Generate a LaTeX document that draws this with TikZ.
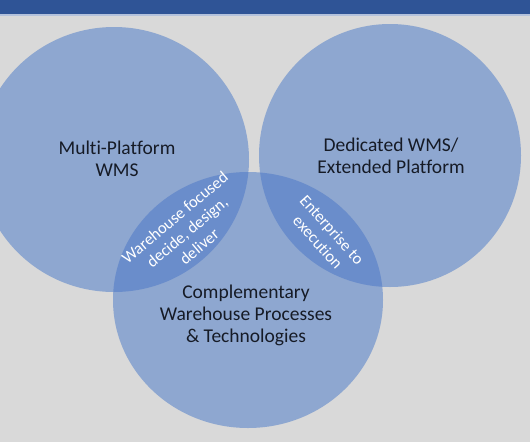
\documentclass[tikz,border=0pt]{standalone}
\usepackage{fontspec}
\setmainfont{Carlito}[Ligatures=NoCommon]
\definecolor{bggray}{HTML}{D9D9D9}
\definecolor{barblue}{HTML}{2F5496}
\definecolor{barline}{HTML}{B4C2DC}
\definecolor{circfill}{HTML}{8EA7D0}
\definecolor{lensfill}{HTML}{6A8DCB}
\definecolor{txtdark}{HTML}{161B26}
\tikzset{
  circ/.style={fill=circfill},
  lens/.style={fill=lensfill},
  mainlabel/.style={align=center,text=txtdark,font=\fontsize{19.5}{22}\selectfont,inner sep=0pt},
  lenslabel/.style={align=center,text=white,font=\fontsize{16.5}{19}\selectfont,inner sep=0pt}
}
\begin{document}
\begin{tikzpicture}[x=1pt,y=-1pt]
\useasboundingbox (0,0) rectangle (530,442);
\fill[bggray] (0,0) rectangle (530,442);
% circles
\fill[circ] (114,159.5) ellipse [x radius=135pt, y radius=132.5pt];
\fill[circ] (390,155.5) ellipse [x radius=131pt, y radius=131.5pt];
\fill[circ] (248,300) ellipse [x radius=135pt, y radius=128pt];
% lenses
\begin{scope}
  \clip (114,159.5) ellipse [x radius=135pt, y radius=132.5pt];
  \fill[lens] (248,300) ellipse [x radius=135pt, y radius=128pt];
\end{scope}
\begin{scope}
  \clip (390,155.5) ellipse [x radius=131pt, y radius=131.5pt];
  \fill[lens] (248,300) ellipse [x radius=135pt, y radius=128pt];
\end{scope}
% top bar
\fill[barblue] (0,0) rectangle (530,14);
\fill[barline] (0,14) rectangle (530,15.5);
% labels
\node[mainlabel] (multi) at (117,159) {Multi-Platform\\WMS};
\node[mainlabel] (dedicated) at (391,156) {Dedicated WMS/\\Extended Platform};
\node[mainlabel] (compl) at (246,315) {Complementary\\Warehouse Processes\\\& Technologies};
\node[lenslabel,rotate=40] (wh) at (187,232) {Warehouse focused\\decide, design,\\deliver};
\node[lenslabel,rotate=-48] (ent) at (325,236) {Enterprise to\\execution};
\end{tikzpicture}
\end{document}
